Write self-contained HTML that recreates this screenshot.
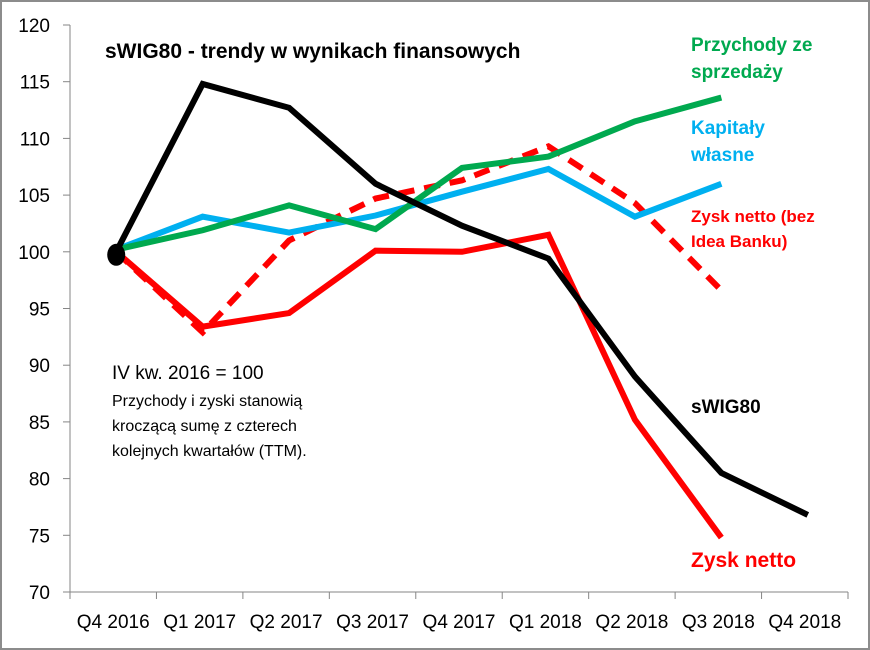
<!DOCTYPE html>
<html><head><meta charset="utf-8"><style>
body{margin:0;background:#fff}
svg{display:block;font-family:"Liberation Sans",Calibri,sans-serif}
</style></head><body>
<svg id="c" width="870" height="650">
<rect x="1" y="1" width="868" height="648" fill="#fff" stroke="#8c8c8c" stroke-width="2"/>
<g id="axes"></g>
<g id="series"></g>
<text x="105" y="58" font-size="21" font-weight="bold">sWIG80 - trendy w wynikach finansowych</text>
<text x="112" y="379" font-size="19">IV kw. 2016 = 100</text>
<text x="112" y="406" font-size="16">Przychody i zyski stanowią</text>
<text x="112" y="431" font-size="16">kroczącą sumę z czterech</text>
<text x="112" y="456" font-size="16">kolejnych kwartałów (TTM).</text>
<g font-weight="bold" font-size="19">
<text x="691" y="51" fill="#00a94f">Przychody ze</text>
<text x="691" y="78" fill="#00a94f">sprzedaży</text>
<text x="691" y="134" fill="#00b0f0">Kapitały</text>
<text x="691" y="161" fill="#00b0f0">własne</text>
<text x="691" y="222" fill="#ff0000" font-size="17">Zysk netto (bez</text>
<text x="691" y="247" fill="#ff0000" font-size="17">Idea Banku)</text>
<text x="691" y="413" fill="#000">sWIG80</text>
<text x="691" y="567" fill="#ff0000" font-size="21">Zysk netto</text>
</g>
</svg>
<script>
const categories=["Q4 2016","Q1 2017","Q2 2017","Q3 2017","Q4 2017","Q1 2018","Q2 2018","Q3 2018","Q4 2018"];
const yTicks=[70,75,80,85,90,95,100,105,110,115,120];
const swig80=[100,114.8,112.7,106,102.3,99.4,89,80.5,76.8];
const przychody=[100.2,101.9,104.1,102,107.4,108.4,111.5,113.6];
const kapitaly=[100.2,103.1,101.7,103.2,105.3,107.3,103.1,106];
const zyskNetto=[100,93.4,94.6,100.1,100,101.5,85.2,74.8];
const zyskBezIdea=[100,92.9,101,104.7,106.3,109.3,104.3,96.6];
const NS="http://www.w3.org/2000/svg";
const X0=70,X1=848,Y0=592,Y1=25,step=(X1-X0)/categories.length;
const x=i=>X0+(i+0.5)*step+3;
const y=v=>Y0-(v-70)/50*(Y0-Y1);
function mk(t,a,p){const e=document.createElementNS(NS,t);for(const k in a)e.setAttribute(k,a[k]);p.appendChild(e);return e;}
const ax=document.getElementById('axes');
const ya=mk('line',{x1:X0,y1:Y1,x2:X0,y2:Y0,stroke:'#868686','stroke-width':1},ax);

const xa=mk('line',{x1:X0,y1:Y0,x2:X1,y2:Y0,stroke:'#868686','stroke-width':1},ax);

yTicks.forEach(v=>{
 mk('line',{x1:X0-7,y1:y(v),x2:X0,y2:y(v),stroke:'#868686'},ax);
 const t=mk('text',{x:50,y:y(v)+7,'text-anchor':'end','font-size':19},ax);t.textContent=v;
 
});
for(let i=0;i<=categories.length;i++)mk('line',{x1:X0+i*step,y1:Y0,x2:X0+i*step,y2:Y0+7,stroke:'#868686'},ax);
categories.forEach((c,i)=>{
 const t=mk('text',{x:X0+(i+0.5)*step,y:628,'text-anchor':'middle','font-size':19},ax);t.textContent=c;
 
});
const sg=document.getElementById('series');
function line(d,col,name,dash){
 const p=mk('polyline',{points:d.map((v,i)=>x(i)+','+y(v)).join(' '),fill:'none',stroke:col,'stroke-width':6,'stroke-linejoin':'miter'},sg);
 if(dash)p.setAttribute('stroke-dasharray','16 10');
 
}
line(zyskBezIdea,'#ff0000','series-zysk-bez-idea',true);
line(kapitaly,'#00b0f0','series-kapitaly');
line(przychody,'#00a94f','series-przychody');
line(zyskNetto,'#ff0000','series-zysk-netto');
line(swig80,'#000','series-swig80');
const dot=mk('ellipse',{cx:x(0),cy:y(100)+3,rx:9,ry:11,fill:'#000'},sg);

</script>
</body></html>
